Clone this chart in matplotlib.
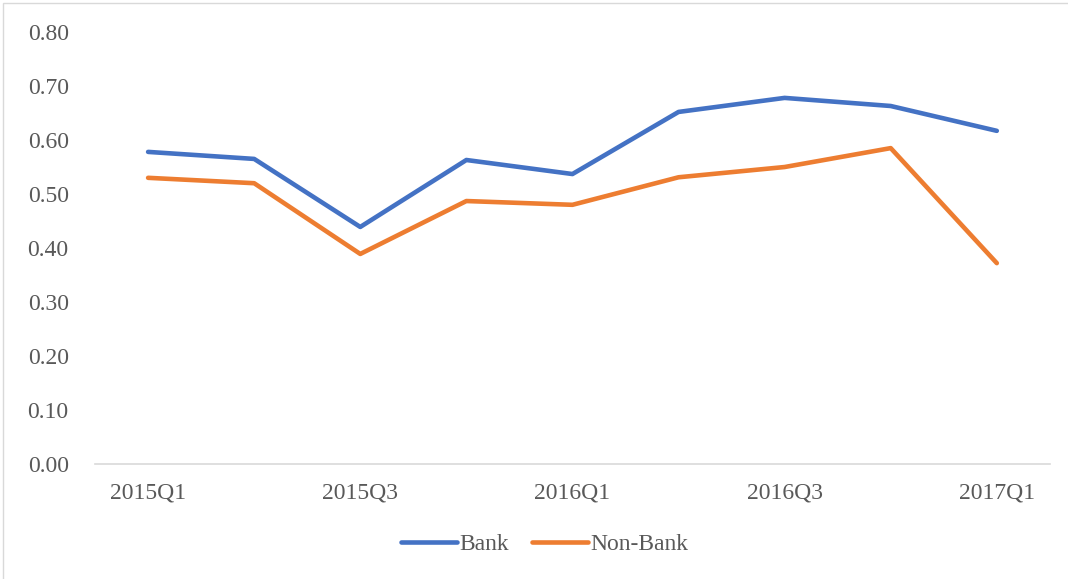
import matplotlib.pyplot as plt
from matplotlib.patches import Rectangle

quarters = ['2015Q1', '2015Q2', '2015Q3', '2015Q4', '2016Q1',
            '2016Q2', '2016Q3', '2016Q4', '2017Q1']
bank = [0.578, 0.565, 0.439, 0.563, 0.537, 0.652, 0.678, 0.663, 0.617]
non_bank = [0.530, 0.520, 0.389, 0.487, 0.480, 0.531, 0.550, 0.585, 0.372]
yticks = [0.0, 0.1, 0.2, 0.3, 0.4, 0.5, 0.6, 0.7, 0.8]

plt.rcParams['font.family'] = ['Liberation Serif', 'DejaVu Serif']

fig = plt.figure(figsize=(10.68, 5.79), dpi=100)
ax = fig.add_axes([0.089, 0.1986, 0.894, 0.7461])

x = list(range(len(quarters)))
ax.plot(x, bank, color='#4472C4', lw=3.3, solid_capstyle='round', label='Bank')
ax.plot(x, non_bank, color='#ED7D31', lw=3.3, solid_capstyle='round', label='Non-Bank')

ax.set_xlim(-0.5, len(quarters) - 0.5)
ax.set_ylim(0, 0.8)
ax.set_yticks(yticks)
ax.set_yticklabels(['%.2f' % v for v in yticks])
ax.set_xticks(x[::2])
ax.set_xticklabels(quarters[::2])
ax.tick_params(axis='both', length=0, labelsize=17, colors='#595959')
ax.tick_params(axis='y', pad=19)
ax.tick_params(axis='x', pad=13)
for s in ['top', 'right', 'left']:
    ax.spines[s].set_visible(False)
ax.spines['bottom'].set_color('#d9d9d9')
ax.spines['bottom'].set_linewidth(1.2)

leg = fig.legend(loc='center', bbox_to_anchor=(0.51, 0.06), ncol=2, frameon=False,
                 fontsize=17, handlelength=2.35, handletextpad=0.1, columnspacing=1.0)
for t in leg.get_texts():
    t.set_color('#595959')

# chart border
fig.patches.append(Rectangle((3 / 1068, -0.1), 1.2, 1 - 3 / 579 + 0.1,
                             transform=fig.transFigure, fill=False,
                             edgecolor='#d9d9d9', lw=1.0))

fig.savefig('out.png', dpi=100)
